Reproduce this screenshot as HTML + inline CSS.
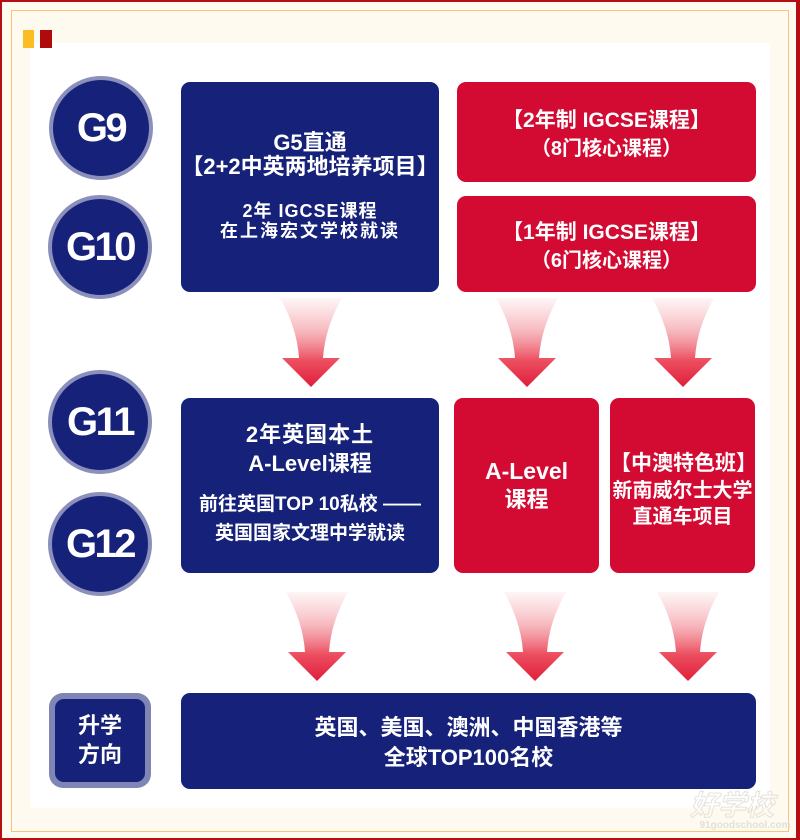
<!DOCTYPE html>
<html><head><meta charset="utf-8">
<style>
*{margin:0;padding:0;box-sizing:border-box}
html,body{width:800px;height:840px;overflow:hidden;background:#fefaef}
body{position:relative;font-family:"Liberation Sans","Noto Sans CJK SC",sans-serif;font-weight:700;color:#fff}
.abs{position:absolute}
.frame{left:0;top:0;width:800px;height:840px;border-top:2px solid #b50e12;border-left:2px solid #b50e12;border-right:4px solid #b50e12;border-bottom:2px solid #b50e12}
.oline{left:11px;top:10px;width:778px;height:822px;border:1px solid #f5c77e}
.panel{left:30px;top:43px;width:740px;height:765px;background:#fff}
.navy{background:#16217a}
.red{background:#d30a32}
.box{border-radius:9px}
.circ{width:104px;height:104px;border-radius:50%;background:#16217a;border:4px solid #8a90bb;font-size:40px;letter-spacing:-2.5px;text-align:center;line-height:96px;font-family:"Liberation Sans",sans-serif}
.ln{position:absolute;left:0;width:100%;height:30px;line-height:30px;text-align:center;white-space:nowrap}
</style></head><body>
<div class="abs frame"></div>
<div class="abs oline"></div>
<div class="abs panel"></div>
<div class="abs" style="left:23px;top:30px;width:11px;height:18px;background:#fbbd23"></div>
<div class="abs" style="left:40px;top:30px;width:12px;height:18px;background:#b00b0c"></div>

<!-- grade circles -->
<div class="abs circ" style="left:49px;top:76px">G9</div>
<div class="abs circ" style="left:48px;top:195px">G10</div>
<div class="abs circ" style="left:48px;top:370px">G11</div>
<div class="abs circ" style="left:48px;top:492px">G12</div>

<!-- row 1 -->
<div class="abs navy box" style="left:181px;top:82px;width:258px;height:210px">
  <div class="ln" style="top:46px;font-size:22px">G5直通</div>
  <div class="ln" style="top:70px;font-size:22px">【2+2中英两地培养项目】</div>
  <div class="ln" style="top:114px;font-size:18px;letter-spacing:1px">2年 IGCSE课程</div>
  <div class="ln" style="top:134px;font-size:18px;letter-spacing:2px">在上海宏文学校就读</div>
</div>
<div class="abs red box" style="left:457px;top:82px;width:299px;height:100px">
  <div class="ln" style="top:24px;font-size:21px">【2年制 IGCSE课程】</div>
  <div class="ln" style="top:52px;font-size:20px">（8门核心课程）</div>
</div>
<div class="abs red box" style="left:457px;top:196px;width:299px;height:96px">
  <div class="ln" style="top:22px;font-size:21px">【1年制 IGCSE课程】</div>
  <div class="ln" style="top:50px;font-size:20px">（6门核心课程）</div>
</div>

<!-- row 2 -->
<div class="abs navy box" style="left:181px;top:398px;width:258px;height:175px">
  <div class="ln" style="top:22px;font-size:22px;letter-spacing:1px">2年英国本土</div>
  <div class="ln" style="top:51px;font-size:22px">A-Level课程</div>
  <div class="ln" style="top:92px;font-size:19px">前往英国TOP 10私校 ——</div>
  <div class="ln" style="top:121px;font-size:19px">英国国家文理中学就读</div>
</div>
<div class="abs red box" style="left:454px;top:398px;width:145px;height:175px">
  <div class="ln" style="top:58px;font-size:23px">A-Level</div>
  <div class="ln" style="top:87px;font-size:22px">课程</div>
</div>
<div class="abs red box" style="left:610px;top:398px;width:145px;height:175px">
  <div class="ln" style="top:51px;font-size:21px">【中澳特色班】</div>
  <div class="ln" style="top:78px;font-size:20px">新南威尔士大学</div>
  <div class="ln" style="top:104px;font-size:20px">直通车项目</div>
</div>

<!-- row 3 -->
<div class="abs" style="left:49px;top:693px;width:102px;height:95px;border-radius:14px;background:#7f86b5;padding:6px">
  <div style="position:relative;width:100%;height:100%;border-radius:9px;background:#16217a">
    <div class="ln" style="top:12px;font-size:22px">升学</div>
    <div class="ln" style="top:41px;font-size:22px">方向</div>
  </div>
</div>
<div class="abs navy box" style="left:181px;top:693px;width:575px;height:96px">
  <div class="ln" style="top:20px;font-size:22px">英国、美国、澳洲、中国香港等</div>
  <div class="ln" style="top:50px;font-size:22px">全球TOP100名校</div>
</div>

<!-- arrows -->
<svg class="abs" style="left:0;top:0" width="800" height="840" viewBox="0 0 800 840">
  <defs>
    <linearGradient id="ag" x1="0" y1="0" x2="0" y2="1">
      <stop offset="0" stop-color="#f4a0a8" stop-opacity="0.1"/>
      <stop offset="0.35" stop-color="#f2909a" stop-opacity="0.6"/>
      <stop offset="0.7" stop-color="#ec4f60"/>
      <stop offset="1" stop-color="#e01e3c"/>
    </linearGradient>
    <path id="arr" d="M-31,0 Q-14,30 -12,60 L-29,60 L0,89 L29,60 L12,60 Q14,30 31,0 Z"/>
  </defs>
  <g fill="url(#ag)">
    <use href="#arr" x="311" y="298"/>
    <use href="#arr" x="527" y="298"/>
    <use href="#arr" x="683" y="298"/>
    <use href="#arr" x="317" y="592"/>
    <use href="#arr" x="535" y="592"/>
    <use href="#arr" x="688" y="592"/>
  </g>
  <text x="732" y="815" text-anchor="middle" font-family="Liberation Sans,Noto Sans CJK SC,sans-serif" font-size="28" font-style="italic" font-weight="700" fill="none" stroke="#e6e3dc" stroke-width="1">好学校</text>
  <text x="745" y="828" text-anchor="middle" font-family="Liberation Sans,sans-serif" font-size="10" fill="#e3e0d8">91goodschool.com</text>
</svg>
</body></html>
